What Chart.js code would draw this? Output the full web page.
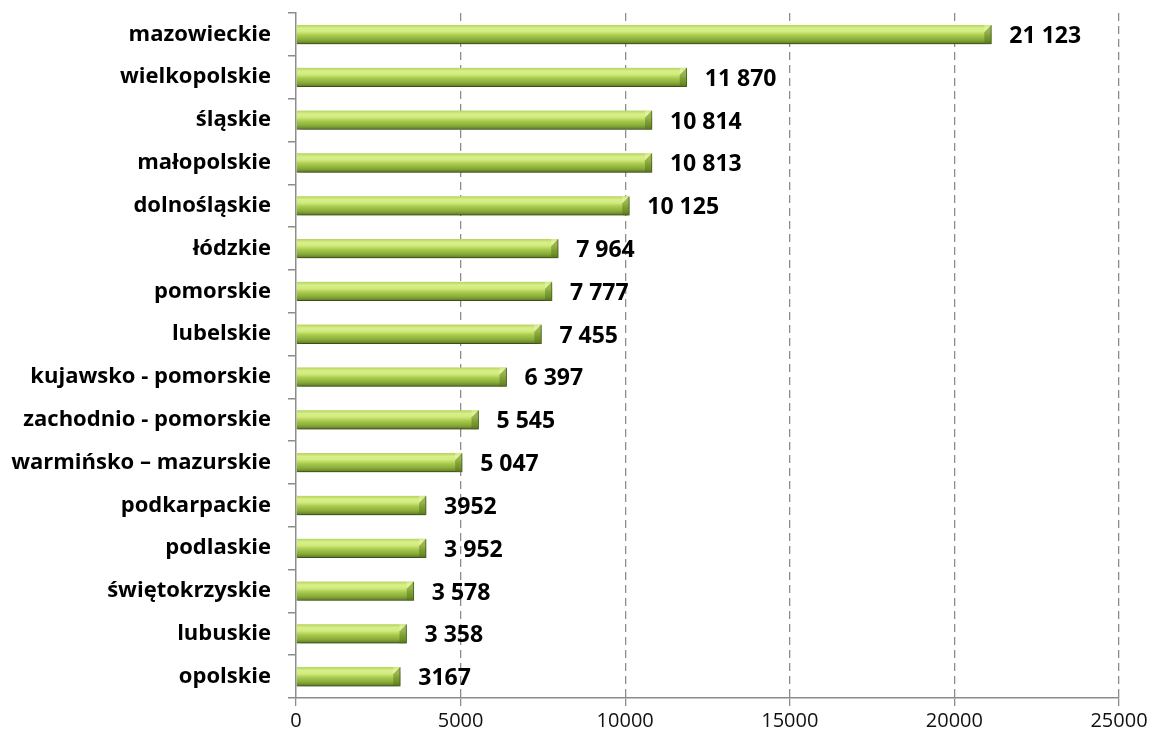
<!DOCTYPE html>
<html>
<head>
<meta charset="utf-8">
<script src="https://cdn.jsdelivr.net/npm/chart.js@4"></script>
<style>
  html, body { margin: 0; padding: 0; background: #fff; }
  #wrap { width: 1156px; height: 745px; }
</style>
</head>
<body>
<div id="wrap"><canvas id="graph"></canvas></div>
<script>
const regions = [
	"mazowieckie", "wielkopolskie", "śląskie", "małopolskie", "dolnośląskie",
	"łódzkie", "pomorskie", "lubelskie", "kujawsko - pomorskie", "zachodnio - pomorskie",
	"warmińsko – mazurskie", "podkarpackie", "podlaskie", "świętokrzyskie", "lubuskie", "opolskie",
];
const counts = [21123, 11870, 10814, 10813, 10125, 7964, 7777, 7455, 6397, 5545, 5047, 3952, 3952, 3578, 3358, 3167];
const countLabels = [
	"21 123", "11 870", "10 814", "10 813", "10 125", "7 964", "7 777", "7 455",
	"6 397", "5 545", "5 047", "3952", "3 952", "3 578", "3 358", "3167",
];

const FONT = "'Open Sans', sans-serif";
const BAR = 19;

// green tube look, gradient per bar
function barFill(ctx) {
	const chart = ctx.chart;
	const y = chart.scales.y;
	if (!y || !chart.chartArea) return "#9bbb59";
	const yc = y.getPixelForValue(ctx.dataIndex);
	const g = chart.ctx.createLinearGradient(0, yc - BAR / 2, 0, yc + BAR / 2);
	g.addColorStop(0, "#b2d45a");
	g.addColorStop(0.18, "#d9ef8a");
	g.addColorStop(0.35, "#d2eb80");
	g.addColorStop(0.55, "#a9cb4c");
	g.addColorStop(0.8, "#88aa3a");
	g.addColorStop(1, "#5b7824");
	return g;
}

const barShadow = {
	id: "barShadow",
	beforeDatasetsDraw(chart) {
		const c = chart.ctx;
		c.save();
		c.shadowColor = "rgba(0,0,0,0.35)";
		c.shadowBlur = 6;
		c.shadowOffsetY = 4;
		c.shadowOffsetX = 1;
	},
	afterDatasetsDraw(chart) {
		chart.ctx.restore();
	},
};

// bevelled right end of each bar
const barEnds = {
	id: "barEnds",
	afterDatasetsDraw(chart) {
		const c = chart.ctx;
		c.save();
		chart.getDatasetMeta(0).data.forEach((bar) => {
			const top = bar.y - BAR / 2;
			const bot = bar.y + BAR / 2;
			c.fillStyle = "rgba(80,110,25,0.45)";
			c.beginPath();
			c.moveTo(bar.x - 7, top + 7);
			c.lineTo(bar.x, top);
			c.lineTo(bar.x, bot);
			c.lineTo(bar.x - 7, bot);
			c.closePath();
			c.fill();
			c.fillStyle = "rgba(235,248,170,0.55)";
			c.beginPath();
			c.moveTo(bar.x - 7, top);
			c.lineTo(bar.x, top);
			c.lineTo(bar.x - 7, top + 7);
			c.closePath();
			c.fill();
		});
		c.restore();
	},
};

const valueLabels = {
	id: "valueLabels",
	afterDatasetsDraw(chart) {
		const c = chart.ctx;
		const meta = chart.getDatasetMeta(0);
		c.save();
		c.font = "bold 23px " + FONT;
		c.fillStyle = "#000";
		c.textAlign = "left";
		c.textBaseline = "middle";
		meta.data.forEach((bar, i) => {
			c.fillText(countLabels[i], bar.x + 18, bar.y + 2);
		});
		c.restore();
	},
};

new Chart(document.getElementById("graph"), {
	type: "bar",
	data: {
		labels: regions,
		datasets: [
			{
				data: counts,
				backgroundColor: barFill,
				borderColor: "#55711f",
				borderWidth: { top: 0, left: 0, right: 1, bottom: 1 },
				borderSkipped: false,
				barThickness: BAR,
			},
		],
	},
	plugins: [barShadow, barEnds, valueLabels],
	options: {
		indexAxis: "y",
		responsive: true,
		maintainAspectRatio: false,
		animation: false,
		layout: { padding: { top: 13, right: 37, left: 0, bottom: 0 } },
		plugins: {
			legend: { display: false },
			tooltip: { enabled: false },
		},
		scales: {
			x: {
				min: 0,
				max: 25000,
				ticks: {
					stepSize: 5000,
					color: "#111",
					font: { family: FONT, size: 20 },
					padding: 3,
					callback: (v) => String(v),
				},
				grid: {
					color: (ctx) => (ctx.index === 0 ? "rgba(0,0,0,0)" : "#8c8c8c"),
					lineWidth: 1.3,
					tickLength: 8,
					tickColor: "#8c8c8c",
				},
				border: { color: "#8c8c8c", width: 1.5, dash: [8, 5] },
				afterFit(scale) {
					scale.height = 47;
				},
			},
			y: {
				ticks: {
					color: "#000",
					font: { family: FONT, size: 22, weight: "bold" },
					padding: 17,
				},
				grid: {
					offset: true,
					drawOnChartArea: false,
					tickLength: 8,
					color: "#8c8c8c",
					lineWidth: 1.5,
				},
				border: { color: "#8c8c8c", width: 1.5 },
				afterFit(scale) {
					scale.width = 296;
					scale.paddingTop = 0;
					scale.paddingBottom = 0;
				},
			},
		},
	},
});
</script>
</body>
</html>
